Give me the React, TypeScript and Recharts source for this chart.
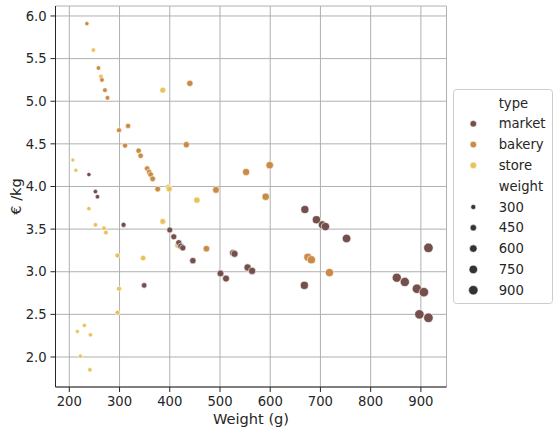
import React from 'react';
import {
  ScatterChart,
  Scatter,
  XAxis,
  YAxis,
  ZAxis,
  CartesianGrid,
} from 'recharts';

// values (weight in g, price in €/kg)
const marketWeight = [239, 252, 256, 308, 349, 400, 408, 418, 422, 426, 446, 501, 512, 526, 529, 555, 564, 668, 669, 692, 704, 710, 752, 852, 868, 892, 906, 897, 915, 915];
const marketPrice = [4.14, 3.94, 3.88, 3.55, 2.84, 3.49, 3.41, 3.34, 3.3, 3.28, 3.13, 2.98, 2.92, 3.22, 3.21, 3.05, 3.01, 2.84, 3.73, 3.61, 3.55, 3.53, 3.39, 2.93, 2.88, 2.8, 2.76, 2.5, 2.46, 3.28];

const bakeryWeight = [235, 258, 265, 271, 276, 299, 311, 317, 338, 342, 355, 359, 362, 366, 376, 433, 440, 473, 492, 552, 591, 599, 675, 682, 718];
const bakeryPrice = [5.91, 5.39, 5.25, 5.13, 5.04, 4.66, 4.48, 4.71, 4.42, 4.36, 4.21, 4.17, 4.14, 4.09, 3.97, 4.49, 5.21, 3.27, 3.96, 4.17, 3.88, 4.25, 3.17, 3.14, 2.99];

const storeWeight = [207, 213, 216, 222, 230, 239, 241, 242, 248, 252, 263, 269, 273, 296, 296, 299, 347, 386, 386, 397, 399, 416, 454];
const storePrice = [4.31, 4.19, 2.3, 2.01, 2.37, 3.74, 1.85, 2.26, 5.6, 3.55, 5.29, 3.51, 3.46, 3.19, 2.52, 2.8, 3.16, 5.13, 3.59, 3.99, 3.97, 3.31, 3.84];

const xTicks = [200, 300, 400, 500, 600, 700, 800, 900];
const yTicks = [2.0, 2.5, 3.0, 3.5, 4.0, 4.5, 5.0, 5.5, 6.0];

const types = ['market', 'bakery', 'store'];
const sizeLevels = [300, 450, 600, 750, 900];

const COLORS: Record<string, string> = {
  market: '#754f4b',
  bakery: '#c98b45',
  store: '#e8c25a',
};

const FONT = '"DejaVu Sans", sans-serif';
const INK = '#262626';

function toRows(xs: number[], ys: number[]) {
  return xs.map((x, i) => ({ weight: x, price: ys[i] }));
}

const seriesData: Record<string, { weight: number; price: number }[]> = {
  market: toRows(marketWeight, marketPrice),
  bakery: toRows(bakeryWeight, bakeryPrice),
  store: toRows(storeWeight, storePrice),
};

// radius for the weight legend, same area mapping as the ZAxis
function sizeRadius(w: number) {
  const area = 12 + ((w - 207) / (915 - 207)) * (71 - 12);
  return Math.sqrt(area / Math.PI);
}

function LegendBox() {
  const rowY = (i: number) => 103 + i * 20.8;
  return (
    <svg
      width={110}
      height={220}
      style={{ position: 'absolute', left: 450, top: 86 }}
    >
      <g transform="translate(-450,-86)" fontFamily={FONT} fontSize={13.2} fill={INK}>
        <rect x={453.5} y={89.5} width={99} height={214} rx={3} fill="#fff" fillOpacity={0.8} stroke="#cccccc" />
        <text x={498.7} y={rowY(0)} dominantBaseline="central">type</text>
        {types.map((t, i) => (
          <g key={t}>
            <circle cx={473.3} cy={rowY(i + 1)} r={3.3} fill={COLORS[t]} stroke="#fff" strokeWidth={0.6} />
            <text x={498.7} y={rowY(i + 1)} dominantBaseline="central">{t}</text>
          </g>
        ))}
        <text x={498.7} y={rowY(4)} dominantBaseline="central">weight</text>
        {sizeLevels.map((s, i) => (
          <g key={s}>
            <circle cx={473.3} cy={rowY(i + 5)} r={sizeRadius(s)} fill="#333333" stroke="#fff" strokeWidth={0.6} />
            <text x={498.7} y={rowY(i + 5)} dominantBaseline="central">{s}</text>
          </g>
        ))}
      </g>
    </svg>
  );
}

export default function App() {
  return (
    <div style={{ position: 'absolute', left: 0, top: 0, width: 560, height: 434, background: '#fff' }}>
      <ScatterChart
        width={560}
        height={434}
        margin={{ top: 6, right: 113.5, bottom: 0, left: 0 }}
        style={{ fontFamily: FONT }}
      >
        <CartesianGrid stroke="#b0b0b0" strokeWidth={1} />
        <XAxis
          type="number"
          dataKey="weight"
          domain={[172.5, 951]}
          ticks={xTicks}
          allowDataOverflow
          height={47}
          tickSize={5}
          tickMargin={5}
          axisLine={{ stroke: INK, strokeWidth: 1 }}
          tickLine={{ stroke: INK }}
          tick={{ fill: INK, fontSize: 13.2 }}
          label={{
            content: (props: any) => {
              const vb = props.viewBox || {};
              return (
                <text x={vb.x + vb.width / 2} y={424} textAnchor="middle" fill={INK} fontSize={14.6} fontFamily={FONT}>
                  Weight (g)
                </text>
              );
            },
          }}
        />
        <YAxis
          type="number"
          dataKey="price"
          domain={[1.648, 6.117]}
          ticks={yTicks}
          allowDataOverflow
          width={55.5}
          tickSize={5}
          tickMargin={3.8}
          tickFormatter={(v: number) => v.toFixed(1)}
          axisLine={{ stroke: INK, strokeWidth: 1 }}
          tickLine={{ stroke: INK }}
          tick={{ fill: INK, fontSize: 13.2 }}
          label={{
            content: (props: any) => {
              const vb = props.viewBox || {};
              const cy = vb.y + vb.height / 2;
              return (
                <text
                  x={20.5}
                  y={cy}
                  transform={`rotate(-90, 20.5, ${cy})`}
                  textAnchor="middle"
                  fill={INK}
                  fontSize={14.6}
                  fontFamily={FONT}
                >
                  € /kg
                </text>
              );
            },
          }}
        />
        <ZAxis type="number" dataKey="weight" domain={[207, 915]} range={[12, 71]} />
        {['store', 'bakery', 'market'].map((t) => (
          <Scatter
            key={t}
            name={t}
            data={seriesData[t]}
            fill={COLORS[t]}
            stroke="#ffffff"
            strokeWidth={0.6}
            isAnimationActive={false}
          />
        ))}
      </ScatterChart>
      <LegendBox />
    </div>
  );
}
